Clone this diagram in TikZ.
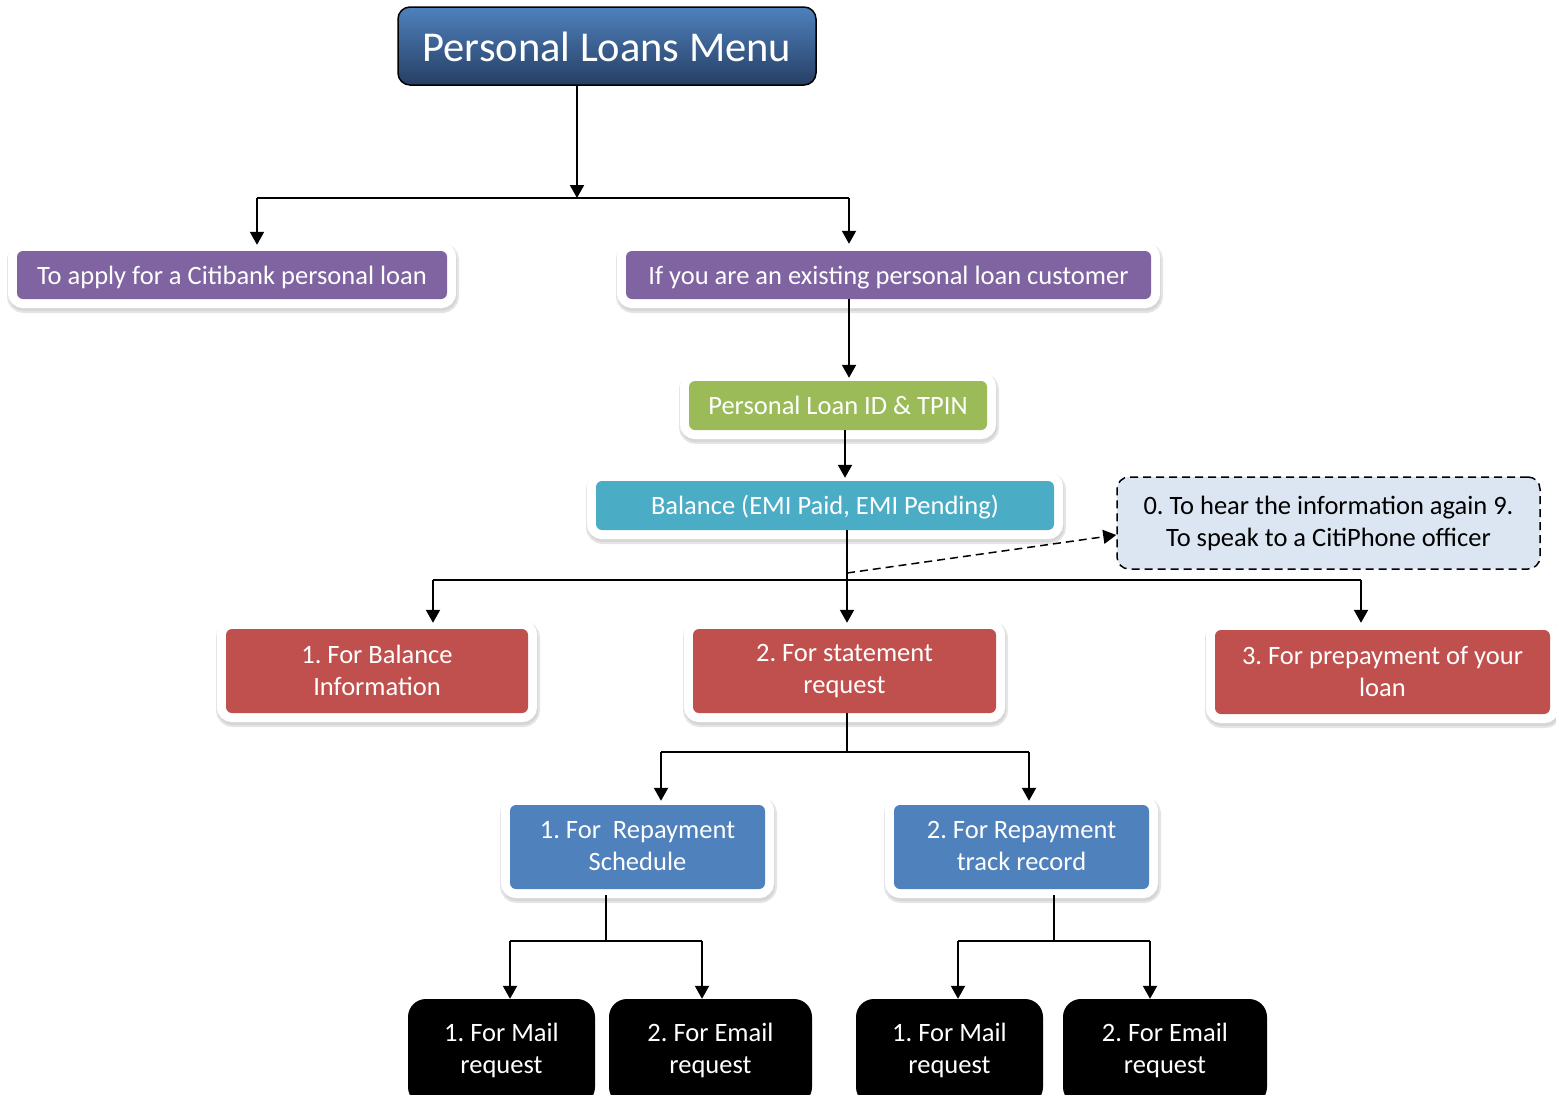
\documentclass[tikz,border=0pt]{standalone}
\usepackage{fontspec}
\setmainfont{Carlito}
\usetikzlibrary{positioning,arrows.meta,calc}
\definecolor{menutop}{RGB}{79,129,189}
\definecolor{menubot}{RGB}{38,63,100}
\definecolor{loanpurple}{RGB}{128,100,162}
\definecolor{loangreen}{RGB}{155,187,89}
\definecolor{loanteal}{RGB}{75,172,198}
\definecolor{loanred}{RGB}{192,80,77}
\definecolor{loanblue}{RGB}{79,129,189}
\definecolor{againfill}{RGB}{220,230,242}
\newcommand\loanstrut{\rule[-7pt]{0pt}{32pt}}
\newcommand\pairstrut{\rule[-2pt]{0pt}{32pt}}
\newcommand\menustrut{\rule[-10pt]{0pt}{50pt}}
\frenchspacing

\begin{document}
\begin{tikzpicture}
   [x=1pt,y=-1pt,
    oneline/.style={execute at begin node=\loanstrut,execute at end node=\loanstrut},
    twoline/.style={execute at begin node=\pairstrut,execute at end node=\pairstrut},
    box/.style={rectangle,rounded corners=6pt,text=white,align=center,inner sep=0pt,
        font=\fontsize{26.5}{32}\selectfont,
        preaction={draw=black!10,line width=22pt,transform canvas={shift={(1pt,-3pt)}}},
        preaction={draw=black!16,line width=18pt,transform canvas={shift={(1pt,-3pt)}}},
        preaction={draw=white,line width=18pt}},
    menubox/.style={rectangle,rounded corners=12pt,draw=black,line width=1.5pt,
        top color=menutop,bottom color=menubot,text=white,inner sep=0pt,
        font=\fontsize{42.5}{48}\selectfont,
        execute at begin node=\menustrut,execute at end node=\menustrut},
    againbox/.style={rectangle,rounded corners=12pt,draw=black,dash pattern=on 8pt off 5pt,
        line width=1.5pt,fill=againfill,align=center,inner sep=0pt,twoline,
        font=\fontsize{26.5}{32}\selectfont},
    reqbox/.style={rectangle,rounded corners=18pt,fill=black,text=white,align=center,
        inner sep=0pt,minimum height=106pt,oneline,font=\fontsize{26.5}{32}\selectfont},
    line/.style={draw,line width=2pt},
    arr/.style={line,-{Triangle[width=14pt,length=13pt]}}]
\useasboundingbox (0,0) rectangle (1556,1095);

% boxes
\node [menubox,minimum width=418pt,minimum height=78pt] (menu) at (607,46) {Personal Loans Menu};
\node [box,oneline,fill=loanpurple,minimum width=430pt,minimum height=48pt] (apply) at (232,275)
    {To apply for a Citibank personal loan};
\node [box,oneline,fill=loanpurple,minimum width=525pt,minimum height=48pt] (exist) at (888.5,275)
    {If you are an existing personal loan customer};
\node [box,oneline,fill=loangreen,minimum width=298pt,minimum height=49pt] (loanid) at (838,405.5)
    {Personal Loan ID \& TPIN};
\node [box,oneline,fill=loanteal,minimum width=458pt,minimum height=49pt] (balance) at (825,505.5)
    {Balance (EMI Paid, EMI Pending)};
\node [againbox,minimum width=423pt,minimum height=92pt] (again) at (1328.5,523)
    {0. To hear the information again 9.\\ To speak to a CitiPhone officer};
\node [box,twoline,fill=loanred,minimum width=302pt,minimum height=84pt] (balinfo) at (377,671)
    {1. For Balance\\ Information};
\node [box,twoline,fill=loanred,minimum width=303pt,minimum height=84pt] (stmt) at (844.5,671)
    {2. For statement\\ request};
\node [box,twoline,fill=loanred,minimum width=335pt,minimum height=84pt] (prepay) at (1382.5,672)
    {3. For prepayment of your\\ loan};
\node [box,twoline,fill=loanblue,minimum width=255pt,minimum height=84pt] (sched) at (637.5,847)
    {1. For~ Repayment\\ Schedule};
\node [box,twoline,fill=loanblue,minimum width=255pt,minimum height=84pt] (track) at (1021.5,847)
    {2. For Repayment\\ track record};
\node [reqbox,minimum width=187pt] (mail1) at (501.5,1052) {1. For Mail\\ request};
\node [reqbox,minimum width=203pt] (email1) at (710.5,1052) {2. For Email\\ request};
\node [reqbox,minimum width=187pt] (mail2) at (949.5,1052) {1. For Mail\\ request};
\node [reqbox,minimum width=204pt] (email2) at (1165,1052) {2. For Email\\ request};

% junctions
\coordinate (j0) at (577,198);
\coordinate (ja) at (257,198);
\coordinate (jb) at (849,198);
\coordinate (jc) at (847,580);
\coordinate (jl) at (433,580);
\coordinate (jr) at (1361,580);
\coordinate (dstart) at (847,573);
\coordinate (jd) at (847,752);
\coordinate (je) at (661,752);
\coordinate (jf) at (1029,752);
\coordinate (jg) at (606,941);
\coordinate (jh) at (510,941);
\coordinate (ji) at (702,941);
\coordinate (jk) at (1054,941);
\coordinate (jm) at (958,941);
\coordinate (jn) at (1150,941);

% connectors
\draw [arr] (menu.south -| j0) -- (j0);
\draw [line] (ja) -- (jb);
\draw [arr,shorten >=6pt] (ja) -- (ja |- apply.north);
\draw [arr,shorten >=7pt] (jb) -- (jb |- exist.north);
\draw [arr,shorten >=3pt] (jb |- exist.south) -- (jb |- loanid.north);
\draw [arr,shorten >=3pt] ([xshift=7pt]loanid.south) -- ([xshift=7pt]loanid.south |- balance.north);
\draw [line] (balance.south -| jc) -- (jc);
\draw [line] (jl) -- (jr);
\draw [arr,shorten >=6pt] (jl) -- (jl |- balinfo.north);
\draw [arr,shorten >=6pt] (jc) -- (jc |- stmt.north);
\draw [arr,shorten >=7pt] (jr) -- (jr |- prepay.north);
\draw [arr,dash pattern=on 8pt off 5pt,line width=1.5pt] (dstart) -- ([yshift=-12pt]again.west);
\draw [line] (stmt.south -| jd) -- (jd);
\draw [line] (je) -- (jf);
\draw [arr,shorten >=4pt] (je) -- (je |- sched.north);
\draw [arr,shorten >=4pt] (jf) -- (jf |- track.north);
\draw [line] ([yshift=-6pt]sched.south -| jg) -- (jg);
\draw [line] (jh) -- (ji);
\draw [arr] (jh) -- (jh |- mail1.north);
\draw [arr] (ji) -- (ji |- email1.north);
\draw [line] ([yshift=-6pt]track.south -| jk) -- (jk);
\draw [line] (jm) -- (jn);
\draw [arr] (jm) -- (jm |- mail2.north);
\draw [arr] (jn) -- (jn |- email2.north);
\end{tikzpicture}
\end{document}
